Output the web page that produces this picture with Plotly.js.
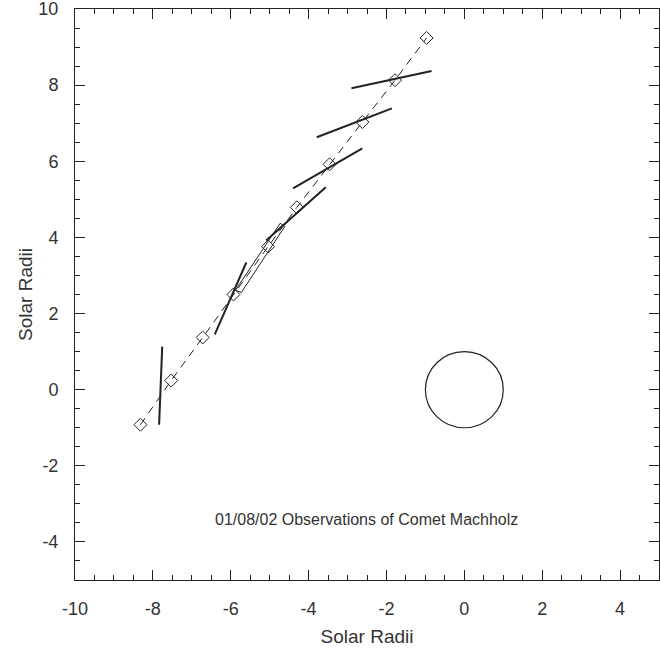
<!DOCTYPE html>
<html>
<head>
<meta charset="utf-8">
<script src="https://cdn.plot.ly/plotly-3.0.1.min.js"></script>
<style>html,body{margin:0;padding:0;background:#fff;}#chart{width:660px;height:650px;}</style>
</head>
<body>
<div id="chart"></div>
<script>
// Comet positions (Solar Radii)
var cometX = [-8.32, -7.53, -6.72, -5.93, -5.04, -4.30, -3.46, -2.62, -1.78, -0.97];
var cometY = [-0.92, 0.24, 1.37, 2.50, 3.76, 4.79, 5.92, 7.03, 8.13, 9.24];

// Tail orientation segments (start/end pairs)
var segStartX = [-7.76, -6.41, -5.09, -4.40, -3.79, -2.90];
var segStartY = [1.13, 1.45, 3.92, 5.29, 6.63, 7.92];
var segEndX   = [-7.84, -5.60, -3.56, -2.62, -1.86, -0.84];
var segEndY   = [-0.92, 3.34, 5.32, 6.34, 7.39, 8.37];

// Elongated box outline
var boxX = [-5.88, -5.73, -4.61, -4.73, -5.88];
var boxY = [2.61, 2.55, 4.29, 4.37, 2.61];

// Sun disk (radius 1 solar radius)
var sunCenter = [0, 0];
var sunRadius = 1;

// Tick labels
var xTickVals = [-10, -8, -6, -4, -2, 0, 2, 4];
var xTickText = ['-10', '-8', '-6', '-4', '-2', '0', '2', '4'];
var yTickVals = [-4, -2, 0, 2, 4, 6, 8, 10];
var yTickText = ['-4', '-2', '0', '2', '4', '6', '8', '10'];

var titleText = "01/08/02 Observations of Comet Machholz";
var titleX = -2.52, titleY = -3.4;

var segX = [], segY = [];
for (var i = 0; i < segStartX.length; i++) {
  segX.push(segStartX[i], segEndX[i], null);
  segY.push(segStartY[i], segEndY[i], null);
}

var FONT = '"Liberation Sans", Arial, sans-serif';
var INK = '#222';

var traces = [
  {x: cometX, y: cometY, mode: 'lines+markers', type: 'scatter',
   line: {color: INK, width: 1, dash: '8px,6px'},
   marker: {symbol: 'diamond-open', size: 10, color: INK, line: {width: 1, color: INK}},
   hoverinfo: 'skip'},
  {x: segX, y: segY, mode: 'lines', type: 'scatter',
   line: {color: INK, width: 2}, connectgaps: false, hoverinfo: 'skip'},
  {x: boxX, y: boxY, mode: 'lines', type: 'scatter',
   line: {color: INK, width: 1}, hoverinfo: 'skip'}
];

function makeAxis(range, vals, text, titleStandoff, labelStandoff) {
  return {
    range: range,
    showgrid: false, zeroline: false, showline: true, mirror: 'ticks',
    linecolor: INK, linewidth: 1,
    ticks: 'inside', ticklen: 10, tickwidth: 1, tickcolor: INK,
    tickmode: 'array', tickvals: vals, ticktext: text,
    ticklabeloverflow: 'allow',
    minor: {ticks: 'inside', ticklen: 5, tickmode: 'linear', dtick: 0.5, tick0: 0,
            tickcolor: INK, tickwidth: 1, showgrid: false},
    tickfont: {family: FONT, size: 18, color: '#333'},
    ticklabelstandoff: labelStandoff,
    title: {text: 'Solar Radii', standoff: titleStandoff,
            font: {family: FONT, size: 19, color: '#333'}}
  };
}

var layout = {
  width: 660, height: 650,
  margin: {l: 75, r: 1, t: 9, b: 70},
  paper_bgcolor: '#fff', plot_bgcolor: '#fff',
  showlegend: false,
  xaxis: makeAxis([-10, 5], xTickVals, xTickText, 12, 12),
  yaxis: makeAxis([-5, 10], yTickVals, yTickText, 0, 12),
  shapes: [{type: 'circle', xref: 'x', yref: 'y',
    x0: sunCenter[0] - sunRadius, x1: sunCenter[0] + sunRadius,
    y0: sunCenter[1] - sunRadius, y1: sunCenter[1] + sunRadius,
    line: {color: INK, width: 1.2}}],
  annotations: [{x: titleX, y: titleY, xref: 'x', yref: 'y', text: titleText,
    showarrow: false, font: {family: FONT, size: 16, color: '#333'}}]
};

Plotly.newPlot('chart', traces, layout, {staticPlot: true, displayModeBar: false});
</script>
</body>
</html>
